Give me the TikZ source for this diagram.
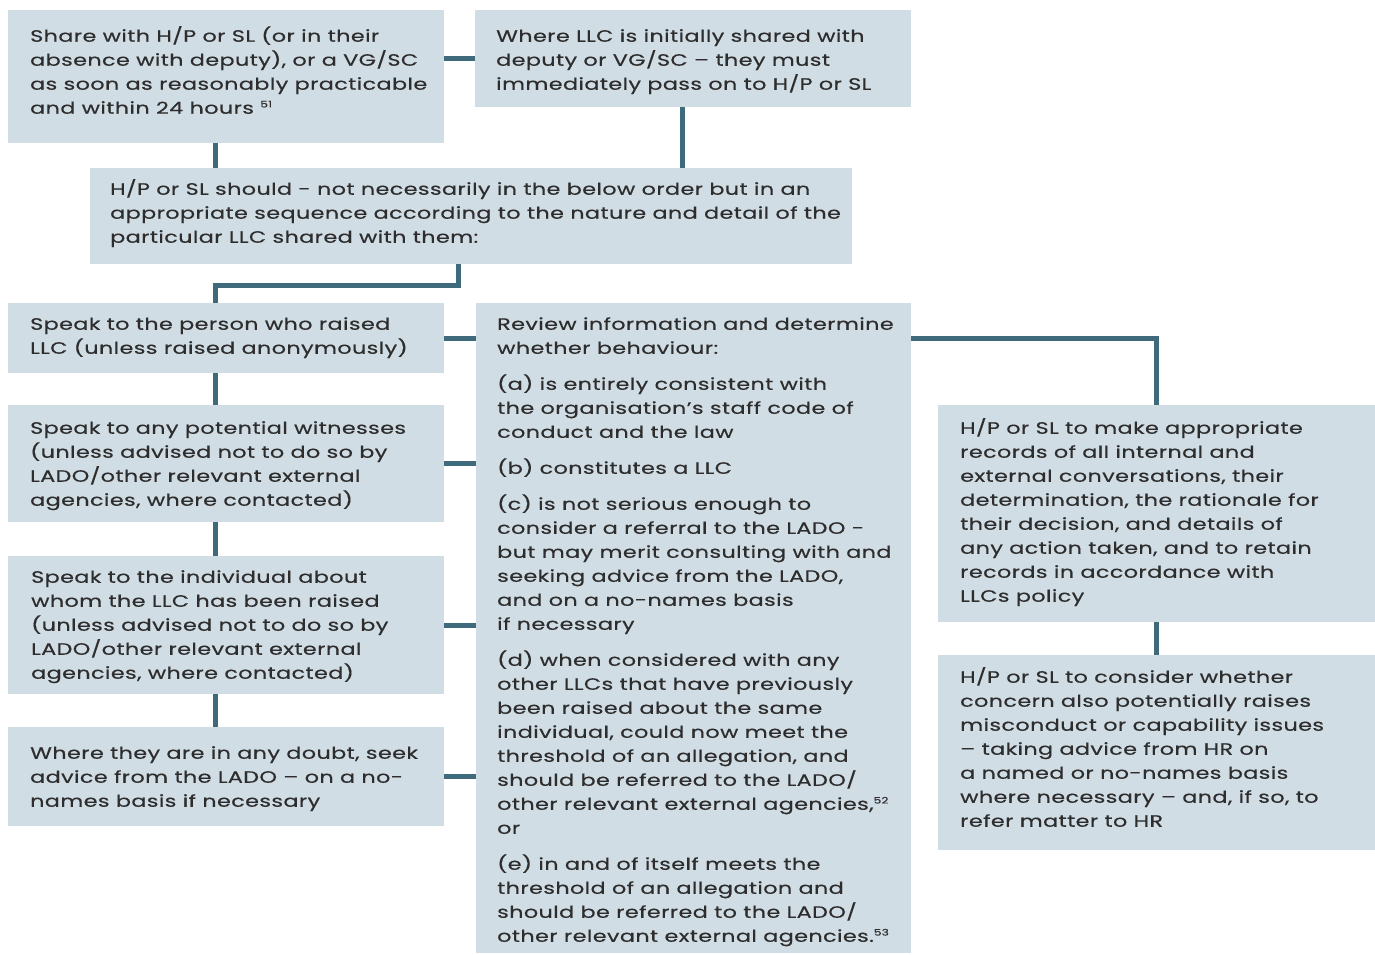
\documentclass[tikz,border=0pt]{standalone}
\usepackage{fontspec}
\setmainfont{Poppins}[FakeStretch=1.35, LetterSpace=2.5, FakeBold=0.4]
\definecolor{boxfill}{RGB}{209,221,228}
\definecolor{linkcol}{RGB}{63,106,124}
\definecolor{textcol}{RGB}{45,45,45}
\tikzset{
	box/.style={fill=boxfill, inner sep=0pt, anchor=north west},
	txt/.style={inner sep=0pt, anchor=north west, align=left, text=textcol,
		font=\fontsize{16.5}{24}\selectfont},
	link/.style={draw=linkcol, line width=5pt},
}
\newcommand{\fn}[1]{\textsuperscript{\fontsize{9}{9}\selectfont #1}}
\begin{document}
\begin{tikzpicture}[x=1pt, y=-1pt]
	\useasboundingbox (0,0) rectangle (1375,954);

	% Caixas
	\node[box, minimum width=436, minimum height=133] (share)      at (8,10)    {};
	\node[box, minimum width=436, minimum height=97]  (pass)       at (475,10)  {};
	\node[box, minimum width=762, minimum height=96]  (should)     at (90,168)  {};
	\node[box, minimum width=436, minimum height=70]  (speak)      at (8,303)   {};
	\node[box, minimum width=436, minimum height=117] (witness)    at (8,405)   {};
	\node[box, minimum width=436, minimum height=138] (individual) at (8,556)   {};
	\node[box, minimum width=436, minimum height=99]  (doubt)      at (8,727)   {};
	\node[box, minimum width=435, minimum height=650] (review)     at (476,303) {};
	\node[box, minimum width=437, minimum height=217] (records)    at (938,405) {};
	\node[box, minimum width=437, minimum height=195] (consider)   at (938,655) {};

	% Textos
	\node[txt] (share-t) at ([shift={(22,16)}]share.north west)
		{Share with H/P or SL (or in their\\ absence with deputy), or a VG/SC\\
		 as soon as reasonably practicable\\ and within 24 hours \fn{51}};
	\node[txt] (pass-t) at ([shift={(21,19)}]pass.north west)
		{Where LLC is initially shared with\\ deputy or VG/SC -- they must\\
		 immediately pass on to H/P or SL};
	\node[txt] (should-t) at ([shift={(20,11)}]should.north west)
		{H/P or SL should - not necessarily in the below order but in an\\
		 appropriate sequence according to the nature and detail of the\\
		 particular LLC shared with them:};
	\node[txt] (speak-t) at ([shift={(22,14)}]speak.north west)
		{Speak to the person who raised\\ LLC (unless raised anonymously)};
	\node[txt] (witness-t) at ([shift={(22,16)}]witness.north west)
		{Speak to any potential witnesses\\ (unless advised not to do so by\\
		 LADO/other relevant external\\ agencies, where contacted)};
	\node[txt] (individual-t) at ([shift={(23,14)}]individual.north west)
		{Speak to the individual about\\ whom the LLC has been raised\\
		 (unless advised not to do so by\\ LADO/other relevant external\\
		 agencies, where contacted)};
	\node[txt] (doubt-t) at ([shift={(22,19)}]doubt.north west)
		{Where they are in any doubt, seek\\ advice from the LADO -- on a no-\\
		 names basis if necessary};
	\node[txt] (review-t) at ([shift={(21,14)}]review.north west)
		{Review information and determine\\ whether behaviour:\\[12pt]
		 (a) is entirely consistent with\\ the organisation’s staff code of\\
		 conduct and the law\\[12pt]
		 (b) constitutes a LLC\\[12pt]
		 (c) is not serious enough to\\ consider a referral to the LADO -\\
		 but may merit consulting with and\\ seeking advice from the LADO,\\
		 and on a no-names basis\\ if necessary\\[12pt]
		 (d) when considered with any\\ other LLCs that have previously\\
		 been raised about the same\\ individual, could now meet the\\
		 threshold of an allegation, and\\ should be referred to the LADO/\\
		 other relevant external agencies,\fn{52}\\ or\\[12pt]
		 (e) in and of itself meets the\\ threshold of an allegation and\\
		 should be referred to the LADO/\\ other relevant external agencies.\fn{53}};
	\node[txt] (records-t) at ([shift={(22,13)}]records.north west)
		{H/P or SL to make appropriate\\ records of all internal and\\
		 external conversations, their\\ determination, the rationale for\\
		 their decision, and details of\\ any action taken, and to retain\\
		 records in accordance with\\ LLCs policy};
	\node[txt] (consider-t) at ([shift={(22,12)}]consider.north west)
		{H/P or SL to consider whether\\ concern also potentially raises\\
		 misconduct or capability issues\\ -- taking advice from HR on\\
		 a named or no-names basis\\ where necessary -- and, if so, to\\
		 refer matter to HR};

	% Ligações
	\coordinate (spine) at (215,0);
	\coordinate (passx) at (682,0);
	\coordinate (shouldx) at (458,0);
	\coordinate (elbow) at (0,285);
	\draw[link] (pass.west) -- (pass.west -| share.east);
	\draw[link] (share.south -| spine) -- (should.north -| spine);
	\draw[link] (pass.south -| passx) -- (should.north -| passx);
	\draw[link] (should.south -| shouldx) -- (elbow -| shouldx) -- (elbow -| spine) -- (speak.north -| spine);
	\draw[link] (speak.south -| spine) -- (witness.north -| spine);
	\draw[link] (witness.south -| spine) -- (individual.north -| spine);
	\draw[link] (individual.south -| spine) -- (doubt.north -| spine);
	\foreach \b in {speak, witness, individual, doubt}
		\draw[link] (\b.east) -- (\b.east -| review.west);
	\draw[link] (review.east |- speak.east) -| (records.north);
	\draw[link] (records.south) -- (consider.north);
\end{tikzpicture}
\end{document}
